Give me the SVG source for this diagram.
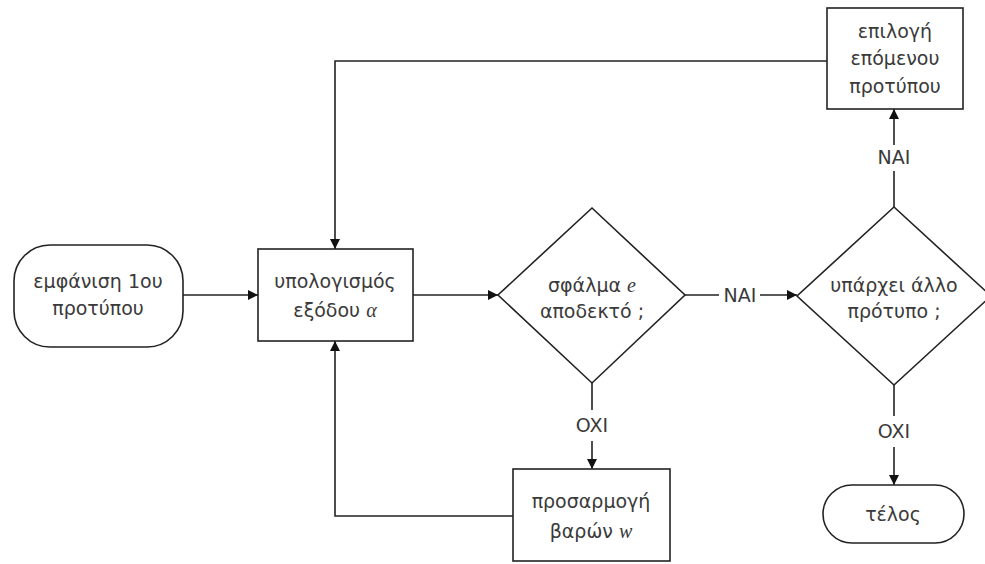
<svg xmlns="http://www.w3.org/2000/svg" width="985" height="564" viewBox="0 0 985 564">
  <style>
    .shape { fill: #ffffff; stroke: #222222; stroke-width: 1.6; }
    .wire { fill: none; stroke: #222222; stroke-width: 1.6; }
    text { font-family: "DejaVu Sans", "Liberation Sans", sans-serif; font-size: 19px; fill: #3a3a3a; text-anchor: middle; }
    .var { font-family: "Liberation Serif", "Times New Roman", serif; font-style: italic; font-size: 20px; }
  </style>
  <defs>
    <marker id="arrow" viewBox="0 0 10 10" refX="10" refY="5" markerWidth="10" markerHeight="10" markerUnits="userSpaceOnUse" orient="auto">
      <path d="M0,0 L10,5 L0,10 z" fill="#111111"/>
    </marker>
  </defs>
  <rect width="985" height="564" fill="#ffffff"/>

  <g id="connectors">
    <!-- start -> compute output -->
    <line class="wire" x1="183" y1="295" x2="258" y2="295" marker-end="url(#arrow)"/>
    <!-- compute output -> error test -->
    <line class="wire" x1="413" y1="295" x2="498" y2="295" marker-end="url(#arrow)"/>
    <!-- error test YES -> more patterns test -->
    <line class="wire" x1="685" y1="295" x2="719" y2="295"/>
    <line class="wire" x1="760" y1="295" x2="797" y2="295" marker-end="url(#arrow)"/>
    <text x="740" y="302">NAI</text>
    <!-- error test NO -> adjust weights -->
    <line class="wire" x1="592" y1="383" x2="592" y2="410"/>
    <line class="wire" x1="592" y1="441" x2="592" y2="469" marker-end="url(#arrow)"/>
    <text x="592" y="432">OXI</text>
    <!-- adjust weights -> compute output -->
    <polyline class="wire" points="513,516 335,516 335,341" marker-end="url(#arrow)"/>
    <!-- more patterns YES -> next pattern -->
    <line class="wire" x1="894" y1="207" x2="894" y2="171"/>
    <line class="wire" x1="894" y1="145" x2="894" y2="109" marker-end="url(#arrow)"/>
    <text x="894" y="164">NAI</text>
    <!-- next pattern -> compute output -->
    <polyline class="wire" points="827,61 335,61 335,249" marker-end="url(#arrow)"/>
    <!-- more patterns NO -> end -->
    <line class="wire" x1="894" y1="385" x2="894" y2="416"/>
    <line class="wire" x1="894" y1="447" x2="894" y2="485" marker-end="url(#arrow)"/>
    <text x="894" y="438">OXI</text>
  </g>

  <g id="start">
    <rect class="shape" x="14" y="245" width="169" height="102" rx="36" ry="36"/>
    <text x="98" y="288">εμφάνιση 1ου</text>
    <text x="98" y="315">προτύπου</text>
  </g>

  <g id="compute-output">
    <rect class="shape" x="258" y="249" width="155" height="92"/>
    <text x="335" y="288">υπολογισμός</text>
    <text x="335" y="317">εξόδου <tspan class="var">α</tspan></text>
  </g>

  <g id="error-test">
    <polygon class="shape" points="592,208 685,295 592,383 498,295"/>
    <text x="592" y="292">σφάλμα <tspan class="var">e</tspan></text>
    <text x="592" y="318">αποδεκτό ;</text>
  </g>

  <g id="adjust-weights">
    <rect class="shape" x="513" y="469" width="157" height="92"/>
    <text x="591" y="508">προσαρμογή</text>
    <text x="591" y="538">βαρών <tspan class="var">w</tspan></text>
  </g>

  <g id="more-patterns">
    <polygon class="shape" points="894,207 991,296 894,385 797,296"/>
    <text x="894" y="292">υπάρχει άλλο</text>
    <text x="894" y="318">πρότυπο ;</text>
  </g>

  <g id="next-pattern">
    <rect class="shape" x="827" y="8" width="136" height="101"/>
    <text x="895" y="38">επιλογή</text>
    <text x="895" y="65">επόμενου</text>
    <text x="895" y="93">προτύπου</text>
  </g>

  <g id="end">
    <rect class="shape" x="823" y="485" width="141" height="58" rx="29" ry="29"/>
    <text x="893" y="521">τέλος</text>
  </g>
</svg>
